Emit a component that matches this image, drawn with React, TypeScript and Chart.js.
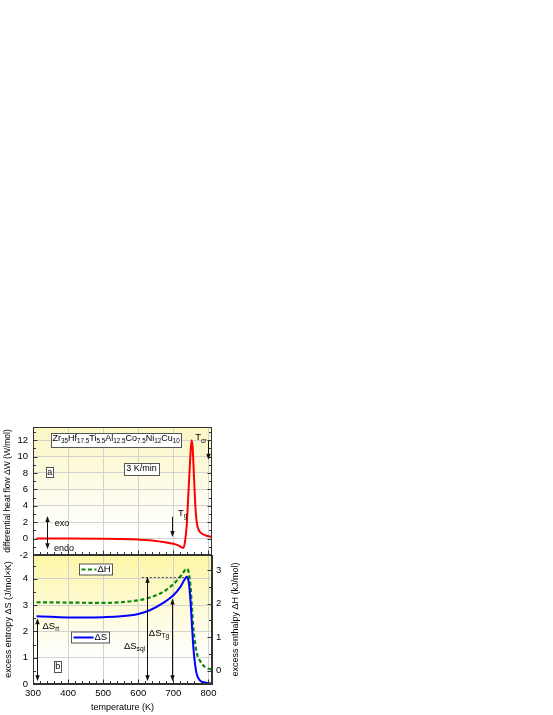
import React, { useEffect, useRef } from 'react';
import { Chart, registerables } from 'chart.js';

Chart.register(...registerables);

const FONT = '"Liberation Sans", Arial, Helvetica, sans-serif';

// ---------- data ----------
// temperature axis (K)
const tempTicks = [300, 400, 500, 600, 700, 800];
// panel a: differential heat flow ΔW (W/mol)
const heatTicks = [-2, 0, 2, 4, 6, 8, 10, 12];
const tempW = [310, 400, 500, 550, 600, 633, 672, 700, 712, 719, 725, 729, 733, 738, 743, 748, 752, 755, 759, 763, 767, 772, 776, 791, 810];
const heatFlow = [0, 0, -0.03, -0.06, -0.12, -0.2, -0.42, -0.62, -0.8, -0.95, -1.1, -1.12, -0.4, 1.6, 5.7, 9.8, 12.0, 11.0, 7.2, 3.7, 1.85, 1.1, 0.8, 0.4, 0.2];
// panel b: excess entropy ΔS (J/mol×K)
const entropyTicks = [0, 1, 2, 3, 4];
const tempS = [310, 350, 400, 450, 500, 550, 600, 633, 671, 700, 719, 729, 735, 738, 741, 744, 747, 750, 753, 757, 762, 767, 776, 790, 810];
const entropyS = [2.57, 2.55, 2.53, 2.53, 2.54, 2.57, 2.66, 2.8, 3.08, 3.37, 3.67, 3.9, 4.03, 4.07, 4.03, 3.85, 3.45, 2.89, 2.2, 1.37, 0.73, 0.35, 0.13, 0.06, 0.02];
// panel b: excess enthalpy ΔH (kJ/mol)
const enthalpyTicks = [0, 1, 2, 3];
const tempH = [310, 400, 500, 550, 600, 633, 671, 700, 719, 729, 735, 738, 742, 745, 749, 753, 757, 762, 767, 776, 791, 810];
const enthalpyH = [2.04, 2.03, 2.02, 2.04, 2.1, 2.18, 2.35, 2.58, 2.8, 2.94, 3.02, 3.04, 3.0, 2.85, 2.5, 1.84, 1.25, 0.81, 0.51, 0.29, 0.1, 0.03];

// ---------- helpers ----------
type Seg = { t: string; sub?: boolean };
const N = (t: string): Seg => ({ t });
const B = (t: string): Seg => ({ t, sub: true });

function fontFor(s: Seg, size: number) {
  return `${s.sub ? size * 0.7 : size}px ${FONT}`;
}
function richWidth(ctx: CanvasRenderingContext2D, segs: Seg[], size: number) {
  let w = 0;
  for (const s of segs) {
    ctx.font = fontFor(s, size);
    w += ctx.measureText(s.t).width;
  }
  return w;
}
function drawRich(ctx: CanvasRenderingContext2D, segs: Seg[], x: number, y: number, size: number, align = 'left') {
  const w = richWidth(ctx, segs, size);
  let cx = align === 'center' ? x - w / 2 : align === 'right' ? x - w : x;
  ctx.textBaseline = 'middle';
  ctx.textAlign = 'left';
  ctx.fillStyle = '#000';
  for (const s of segs) {
    ctx.font = fontFor(s, size);
    ctx.fillText(s.t, cx, s.sub ? y + size * 0.32 : y);
    cx += ctx.measureText(s.t).width;
  }
  return w;
}
function boxRich(ctx: CanvasRenderingContext2D, segs: Seg[], cx: number, cy: number, size: number, padX: number, h: number) {
  const w = richWidth(ctx, segs, size);
  const left = Math.round(cx - w / 2 - padX) + 0.5;
  const top = Math.round(cy - h / 2) + 0.5;
  const bw = Math.round(w + 2 * padX);
  ctx.fillStyle = '#fff';
  ctx.fillRect(left, top, bw, h);
  ctx.strokeStyle = '#555';
  ctx.lineWidth = 1;
  ctx.strokeRect(left, top, bw, h);
  const hasSub = segs.some((s) => s.sub);
  drawRich(ctx, segs, cx, cy - (hasSub ? 1.5 : 0), size, 'center');
}
function head(ctx: CanvasRenderingContext2D, x: number, y: number, dir: number) {
  // vertical arrow head, dir = -1 up, +1 down
  ctx.beginPath();
  ctx.moveTo(x, y);
  ctx.lineTo(x - 2.2, y - dir * 6);
  ctx.lineTo(x + 2.2, y - dir * 6);
  ctx.closePath();
  ctx.fill();
}
function vArrow(ctx: CanvasRenderingContext2D, x: number, yTop: number, yBot: number, upHead: boolean, downHead: boolean) {
  const px = Math.round(x) + 0.5;
  ctx.strokeStyle = '#111';
  ctx.fillStyle = '#111';
  ctx.lineWidth = 1;
  ctx.beginPath();
  ctx.moveTo(px, yTop + (upHead ? 3 : 0));
  ctx.lineTo(px, yBot - (downHead ? 3 : 0));
  ctx.stroke();
  if (upHead) head(ctx, px, yTop, -1);
  if (downHead) head(ctx, px, yBot, 1);
}
function range(a: number, b: number, step: number) {
  const out: number[] = [];
  for (let i = 0; a + i * step <= b + 1e-9; i++) out.push(+(a + i * step).toFixed(6));
  return out;
}

function drawTicks(chart: any, spec: { scale: string; side: 'bottom' | 'left' | 'right'; major: number[]; minor: number[] }[]) {
  const { ctx, chartArea } = chart;
  ctx.save();
  ctx.strokeStyle = '#333';
  ctx.lineWidth = 1;
  ctx.strokeRect(Math.round(chartArea.left) + 0.5, Math.round(chartArea.top) + 0.5, Math.round(chartArea.right - chartArea.left) - 1, Math.round(chartArea.bottom - chartArea.top) - 1);
  ctx.beginPath();
  for (const sp of spec) {
    const sc = chart.scales[sp.scale];
    const all: [number, number][] = [...sp.major.map((v) => [v, 4] as [number, number]), ...sp.minor.map((v) => [v, 2.5] as [number, number])];
    for (const [v, len] of all) {
      const p = Math.round(sc.getPixelForValue(v)) + 0.5;
      if (sp.side === 'bottom') {
        const y0 = Math.round(chartArea.bottom) - 0.5;
        ctx.moveTo(p, y0);
        ctx.lineTo(p, y0 - len);
      } else if (sp.side === 'left') {
        const x0 = Math.round(chartArea.left) + 0.5;
        ctx.moveTo(x0, p);
        ctx.lineTo(x0 + len, p);
      } else {
        const x0 = Math.round(chartArea.right) - 0.5;
        ctx.moveTo(x0, p);
        ctx.lineTo(x0 - len, p);
      }
    }
  }
  ctx.stroke();
  ctx.restore();
}

function bgPlugin(stops: [number, string][]) {
  return {
    id: 'bgGradient',
    beforeDraw(chart: any) {
      const { ctx, chartArea } = chart;
      const g = ctx.createLinearGradient(0, chartArea.top, 0, chartArea.bottom);
      for (const [o, c] of stops) g.addColorStop(o, c);
      ctx.save();
      ctx.fillStyle = g;
      ctx.fillRect(chartArea.left, chartArea.top, chartArea.right - chartArea.left, chartArea.bottom - chartArea.top);
      ctx.restore();
    },
  };
}

const tickFont = { family: FONT, size: 9.5 };
const titleFont = { family: FONT, size: 9 };
const gridColor = '#d2d2d2';
const zeroPad = (s: any) => {
  s.paddingTop = 0;
  s.paddingBottom = 0;
  s.paddingLeft = 0;
  s.paddingRight = 0;
};
const setTicks = (vals: number[]) => (s: any) => {
  s.ticks = vals.map((v) => ({ value: v }));
};

export default function App() {
  const refA = useRef<HTMLCanvasElement>(null);
  const refB = useRef<HTMLCanvasElement>(null);

  useEffect(() => {
    // ---------------- panel a ----------------
    const annotA = {
      id: 'annotA',
      afterDatasetsDraw(chart: any) {
        const { ctx } = chart;
        const X = (v: number) => chart.scales.x.getPixelForValue(v);
        const Y = (v: number) => chart.scales.y.getPixelForValue(v);
        drawTicks(chart, [
          { scale: 'x', side: 'bottom', major: tempTicks, minor: range(300, 810, 20) },
          { scale: 'y', side: 'left', major: heatTicks, minor: range(-1, 13, 2) },
          { scale: 'y', side: 'right', major: heatTicks, minor: range(-1, 13, 2) },
        ]);
        ctx.save();
        boxRich(
          ctx,
          [N('Zr'), B('35'), N('Hf'), B('17.5'), N('Ti'), B('5.5'), N('Al'), B('12.5'), N('Co'), B('7.5'), N('Ni'), B('12'), N('Cu'), B('10')],
          X(537),
          Y(12.0),
          9,
          1.5,
          14
        );
        boxRich(ctx, [N('3 K/min')], X(609), Y(8.5), 9, 2, 12);
        boxRich(ctx, [N('a')], X(348), Y(8.06), 9, 1.2, 10);
        // exo / endo
        vArrow(ctx, X(341), Y(2.75), Y(-1.3), true, true);
        drawRich(ctx, [N('exo')], X(362), Y(1.85), 9);
        drawRich(ctx, [N('endo')], X(360), Y(-1.15), 9);
        // Tg
        vArrow(ctx, X(697), Y(2.66), Y(0.2), false, true);
        drawRich(ctx, [N('T'), B('g')], X(713), Y(3.1), 9.5);
        // Tcr
        vArrow(ctx, X(800), Y(11.9), Y(9.6), false, true);
        drawRich(ctx, [N('T'), B('cr')], X(762), Y(12.3), 9.5);
        ctx.restore();
      },
    };

    const chartA = new Chart(refA.current!, {
      type: 'line',
      data: {
        datasets: [
          {
            data: tempW.map((t, i) => ({ x: t, y: heatFlow[i] })),
            borderColor: '#ff0000',
            borderWidth: 2,
            pointRadius: 0,
            cubicInterpolationMode: 'monotone',
            fill: false,
          },
        ],
      },
      options: {
        responsive: false,
        animation: false,
        devicePixelRatio: 1,
        layout: { padding: { left: 0, top: 427, right: 48, bottom: 3 } },
        plugins: { legend: { display: false }, tooltip: { enabled: false } },
        scales: {
          x: {
            type: 'linear',
            min: 300,
            max: 810,
            afterBuildTicks: setTicks(tempTicks),
            ticks: { display: false },
            grid: { color: gridColor, drawTicks: false },
            border: { display: true, color: '#333' },
            afterFit: (s: any) => {
              s.height = 0;
              zeroPad(s);
            },
          },
          y: {
            type: 'linear',
            min: -2,
            max: 13.6,
            afterBuildTicks: setTicks(heatTicks),
            ticks: { font: tickFont, color: '#000', padding: 5 },
            grid: { color: gridColor, drawTicks: false },
            border: { display: true, color: '#333' },
            title: {
              display: true,
              text: 'differential heat flow ΔW (W/mol)',
              font: { family: FONT, size: 8.5 },
              color: '#000',
              padding: { top: 3, bottom: 0 },
            },
            afterFit: (s: any) => {
              s.width = 33;
              zeroPad(s);
            },
          },
        },
      } as any,
      plugins: [bgPlugin([[0, '#fbf6c2'], [0.5, '#fefcea'], [0.85, '#ffffff'], [1, '#ffffff']]), annotA],
    });

    // ---------------- panel b ----------------
    const annotB = {
      id: 'annotB',
      afterDatasetsDraw(chart: any) {
        const { ctx, chartArea } = chart;
        const X = (v: number) => chart.scales.x.getPixelForValue(v);
        const Y = (v: number) => chart.scales.y.getPixelForValue(v);
        drawTicks(chart, [
          { scale: 'x', side: 'bottom', major: tempTicks, minor: range(300, 810, 20) },
          { scale: 'y', side: 'left', major: entropyTicks, minor: range(0.5, 4.5, 1) },
          { scale: 'yR', side: 'right', major: enthalpyTicks, minor: range(0.5, 3, 1) },
        ]);
        ctx.save();
        // right axis title (reads bottom to top)
        ctx.translate(236, (chartArea.top + chartArea.bottom) / 2);
        ctx.rotate(-Math.PI / 2);
        ctx.font = `9px ${FONT}`;
        ctx.fillStyle = '#000';
        ctx.textAlign = 'center';
        ctx.textBaseline = 'middle';
        ctx.fillText('excess enthalpy ΔH (kJ/mol)', 0, 0);
        ctx.restore();

        ctx.save();
        // dashed reference line at peak level
        ctx.strokeStyle = '#222';
        ctx.lineWidth = 0.8;
        ctx.setLineDash([2, 2]);
        ctx.beginPath();
        const yPk = Math.round(Y(4.07)) + 0.5;
        ctx.moveTo(X(610), yPk);
        ctx.lineTo(X(738), yPk);
        ctx.stroke();
        ctx.setLineDash([]);
        // arrows
        vArrow(ctx, X(311), Y(2.5), Y(0.1), true, true);
        vArrow(ctx, X(624), Y(4.07), Y(0.1), true, true);
        vArrow(ctx, X(697), Y(3.25), Y(0.1), true, true);
        drawRich(ctx, [N('ΔS'), B('rt')], X(327), Y(2.19), 9.5);
        drawRich(ctx, [N('ΔS'), B('sql')], X(559), Y(1.43), 9.5);
        drawRich(ctx, [N('ΔS'), B('Tg')], X(630), Y(1.94), 9.5);
        // "b" box
        boxRich(ctx, [N('b')], X(370.5), Y(0.67), 9, 1.2, 11);

        // legend ΔH
        const legend = (leftT: number, val: number, color: string, dash: number[], lineLen: number, label: string) => {
          const lx = Math.round(X(leftT)) + 0.5;
          const cy = Math.round(Y(val)) + 0.5;
          ctx.font = `9.5px ${FONT}`;
          const tw = ctx.measureText(label).width;
          const w = Math.round(2 + lineLen + 1 + tw + 2);
          const h = 11;
          ctx.fillStyle = '#fff';
          ctx.fillRect(lx, cy - h / 2, w, h);
          ctx.strokeStyle = '#555';
          ctx.lineWidth = 1;
          ctx.strokeRect(lx, cy - h / 2, w, h);
          ctx.strokeStyle = color;
          ctx.lineWidth = 2;
          ctx.setLineDash(dash);
          ctx.beginPath();
          ctx.moveTo(lx + 2, cy);
          ctx.lineTo(lx + 2 + lineLen, cy);
          ctx.stroke();
          ctx.setLineDash([]);
          ctx.fillStyle = '#000';
          ctx.textAlign = 'left';
          ctx.textBaseline = 'middle';
          ctx.fillText(label, lx + 3 + lineLen, cy);
        };
        legend(431, 4.37, '#0a8a0a', [4, 2.5], 15, 'ΔH');
        legend(407, 1.79, '#0000ff', [], 20, 'ΔS');
        ctx.restore();
      },
    };

    const chartB = new Chart(refB.current!, {
      type: 'line',
      data: {
        datasets: [
          {
            data: tempS.map((t, i) => ({ x: t, y: entropyS[i] })),
            yAxisID: 'y',
            borderColor: '#0000ff',
            borderWidth: 2,
            pointRadius: 0,
            cubicInterpolationMode: 'monotone',
            fill: false,
          },
          {
            data: tempH.map((t, i) => ({ x: t, y: enthalpyH[i] })),
            yAxisID: 'yR',
            borderColor: '#0a8a0a',
            borderWidth: 2.2,
            borderDash: [4, 2.5],
            pointRadius: 0,
            cubicInterpolationMode: 'monotone',
            fill: false,
          },
        ],
      },
      options: {
        responsive: false,
        animation: false,
        devicePixelRatio: 1,
        layout: { padding: { left: 0, top: 5, right: 0, bottom: 0 } },
        plugins: { legend: { display: false }, tooltip: { enabled: false } },
        scales: {
          x: {
            type: 'linear',
            min: 300,
            max: 810,
            afterBuildTicks: setTicks(tempTicks),
            ticks: { font: tickFont, color: '#000', padding: 4, maxRotation: 0 },
            grid: { color: gridColor, drawTicks: false },
            border: { display: true, color: '#333' },
            title: {
              display: true,
              text: 'temperature (K)',
              font: titleFont,
              color: '#000',
              padding: { top: 0, bottom: 2 },
            },
            afterFit: (s: any) => {
              s.height = 31;
              zeroPad(s);
            },
          },
          y: {
            type: 'linear',
            position: 'left',
            min: 0,
            max: 4.9,
            afterBuildTicks: setTicks(entropyTicks),
            ticks: { font: tickFont, color: '#000', padding: 5 },
            grid: { color: gridColor, drawTicks: false },
            border: { display: true, color: '#333' },
            title: {
              display: true,
              text: 'excess entropy ΔS (J/mol×K)',
              font: titleFont,
              color: '#000',
              padding: { top: 3, bottom: 0 },
            },
            afterFit: (s: any) => {
              s.width = 33;
              zeroPad(s);
            },
          },
          yR: {
            type: 'linear',
            position: 'right',
            min: -0.4,
            max: 3.45,
            afterBuildTicks: setTicks(enthalpyTicks),
            ticks: { font: tickFont, color: '#000', padding: 4 },
            grid: { drawOnChartArea: false, drawTicks: false },
            border: { display: true, color: '#333' },
            afterFit: (s: any) => {
              s.width = 48;
              zeroPad(s);
            },
          },
        },
      } as any,
      plugins: [bgPlugin([[0, '#fcf6a4'], [0.45, '#fefbdc'], [0.8, '#ffffff'], [1, '#ffffff']]), annotB],
    });

    return () => {
      chartA.destroy();
      chartB.destroy();
    };
  }, []);

  return (
    <div style={{ position: 'absolute', left: 0, top: 0, width: 553, height: 715, background: '#fff', overflow: 'hidden' }}>
      <canvas ref={refA} width={260} height={558} style={{ position: 'absolute', left: 0, top: 0, width: 260, height: 558 }} />
      <canvas ref={refB} width={260} height={165} style={{ position: 'absolute', left: 0, top: 550, width: 260, height: 165 }} />
    </div>
  );
}
